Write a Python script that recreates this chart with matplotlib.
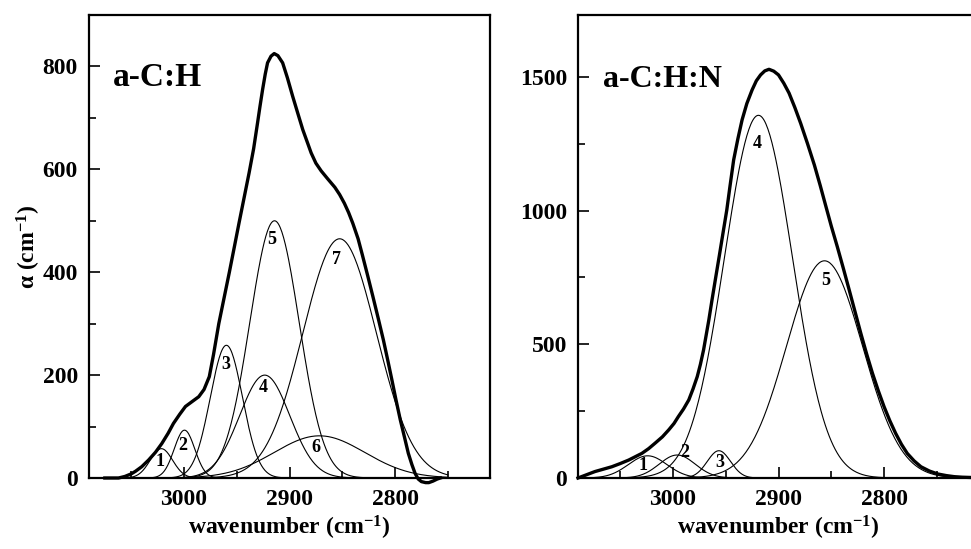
import numpy as np
import matplotlib
matplotlib.use("Agg")
import matplotlib.pyplot as plt
from matplotlib.ticker import MultipleLocator

plt.rcParams['font.family'] = ['Liberation Serif', 'DejaVu Serif']
plt.rcParams['font.weight'] = 'bold'
plt.rcParams['mathtext.fontset'] = 'custom'
plt.rcParams['mathtext.rm'] = 'Liberation Serif:bold'
plt.rcParams['mathtext.it'] = 'Liberation Serif:bold'
plt.rcParams['mathtext.bf'] = 'Liberation Serif:bold'

# a-C:H measured spectrum (wavenumber, alpha)
ach_wn = [3075, 3062, 3056, 3050, 3046, 3040, 3033.5, 3027, 3021, 3015, 3010,
          3004, 2998.6, 2992, 2986, 2981, 2976, 2972, 2967, 2962, 2957, 2952,
          2947.8, 2943, 2938.3, 2934, 2930.3, 2928, 2925.5, 2923, 2920.8,
          2917.5, 2914.5, 2911, 2906.5, 2902, 2897, 2892, 2887.4, 2883, 2879.5,
          2875, 2870, 2864, 2857, 2852.5, 2848, 2844, 2840, 2835, 2831, 2826,
          2821, 2816, 2811, 2807, 2803, 2799, 2795, 2791, 2787.4, 2784, 2781,
          2778, 2775, 2771, 2768, 2764, 2760, 2757]
ach_alpha = [0, 0, 3, 8, 13, 22, 35, 50, 67, 87, 106,
             124, 139, 149, 158, 172, 197, 240, 300, 350, 400, 452,
             496, 545, 593, 640, 690, 722, 755, 785, 807,
             820, 825, 821, 807, 778, 742, 708, 677, 652, 632,
             612, 597, 582, 565, 551, 534, 516, 495, 465, 434, 394,
             353, 311, 268, 230, 191, 151, 113, 79, 48, 26, 9,
             -2, -7, -9, -9, -6, -2, 0]

# a-C:H Gaussian components: centre, height, FWHM
ach_center = [3021.4, 2999.5, 2959.8, 2923.5, 2914.2, 2871.6, 2852.5]
ach_height = [57, 93, 258, 200, 500, 82, 465]
ach_fwhm = [25, 23, 36, 56, 55, 101, 82]
ach_labels = ['1', '2', '3', '4', '5', '6', '7']
ach_label_x = [3023, 3000.8, 2960.5, 2925, 2917, 2875.4, 2855.7]
ach_label_y = [33, 64, 220, 176, 463, 60, 425]

# a-C:H:N measured spectrum
achn_wn = [3090, 3082, 3074, 3066, 3058, 3050, 3042, 3036, 3029.5, 3023, 3017,
           3010, 3004, 2999, 2995, 2990, 2985, 2981, 2977, 2974, 2971, 2968.5,
           2966, 2963, 2959.5, 2956, 2952.5, 2949, 2946, 2942.5, 2938.5, 2934.5,
           2930, 2925, 2921, 2917, 2913, 2909, 2904.5, 2900, 2895, 2890, 2884.5,
           2879, 2872.5, 2866, 2860.5, 2855.4, 2850, 2844.3, 2838.5, 2833,
           2827.5, 2822, 2816.5, 2811, 2805.5, 2800, 2794.5, 2789, 2783.5, 2778,
           2771.5, 2765, 2757, 2749, 2741, 2733.5, 2726, 2718, 2710]
achn_alpha = [0, 12, 24, 33, 42, 54, 67, 79, 92, 110, 130,
              154, 180, 204, 229, 258, 292, 333, 379, 425, 479, 535,
              591, 666, 750, 833, 918, 1002, 1090, 1189, 1268, 1339,
              1400, 1451, 1485, 1507, 1522, 1528, 1521, 1507, 1476, 1439, 1385,
              1326, 1250, 1170, 1094, 1020, 942, 865, 783, 703,
              622, 541, 464, 392, 327, 267, 214, 167, 126, 92,
              64, 42, 26, 15, 9, 5, 3, 2, 1]

# a-C:H:N Gaussian components
achn_center = [3024, 2996, 2956.5, 2919, 2856.4]
achn_height = [83, 86, 102, 1356, 812]
achn_fwhm = [43, 40, 26, 76, 85]
achn_labels = ['1', '2', '3', '4', '5']
achn_label_x = [3028, 2989, 2956, 2920, 2855.4]
achn_label_y = [45, 95, 57, 1252, 740]

W, H = 971, 549
fig = plt.figure(figsize=(W / 100, H / 100), dpi=100)
ax1 = fig.add_axes([89 / W, 71 / H, 401 / W, 463 / H])
ax2 = fig.add_axes([578 / W, 71 / H, 401 / W, 463 / H])


def gauss(x, c, h, fwhm):
    s = fwhm / 2.3548
    return h * np.exp(-(x - c) ** 2 / (2 * s ** 2))


def draw(ax, wn, alpha, centers, heights, fwhms, labels, lx, ly, xgrid):
    for c, h, f in zip(centers, heights, fwhms):
        ax.plot(xgrid, gauss(xgrid, c, h, f), color='black', lw=0.8)
    ax.plot(wn, alpha, color='black', lw=2.4, clip_on=False, zorder=5,
            solid_joinstyle='round')
    for t, x, y in zip(labels, lx, ly):
        ax.text(x, y, t, fontsize=13, fontweight='bold', ha='center', va='center')
    ax.set_xlim(3090, 2710)
    ax.xaxis.set_major_locator(MultipleLocator(100))
    ax.xaxis.set_minor_locator(MultipleLocator(50))
    ax.tick_params(which='both', direction='in', top=False, right=False,
                   labelsize=17, width=1.2)
    ax.tick_params(which='major', length=8, pad=8)
    ax.tick_params(which='minor', length=5)
    for sp in ax.spines.values():
        sp.set_linewidth(1.6)
    ax.set_xlabel('wavenumber (cm$^{-1}$)', fontsize=17, fontweight='bold',
                  labelpad=3)


draw(ax1, ach_wn, ach_alpha, ach_center, ach_height, ach_fwhm,
     ach_labels, ach_label_x, ach_label_y, np.linspace(3070, 2750, 400))
ax1.set_ylim(0, 900)
ax1.yaxis.set_major_locator(MultipleLocator(200))
ax1.yaxis.set_minor_locator(MultipleLocator(100))
ax1.set_ylabel('α (cm$^{-1}$)', fontsize=17, fontweight='bold', labelpad=0)
ax1.text(3067, 778, 'a-C:H', fontsize=24, fontweight='bold', va='center')

draw(ax2, achn_wn, achn_alpha, achn_center, achn_height, achn_fwhm,
     achn_labels, achn_label_x, achn_label_y, np.linspace(3090, 2710, 400))
ax2.set_ylim(0, 1731)
ax2.yaxis.set_major_locator(MultipleLocator(500))
ax2.yaxis.set_minor_locator(MultipleLocator(250))
ax2.text(3066, 1488, 'a-C:H:N', fontsize=23, fontweight='bold', va='center')

fig.savefig('out.png', dpi=100)
